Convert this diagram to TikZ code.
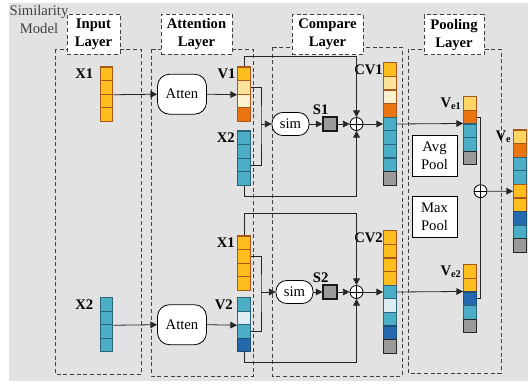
\documentclass[tikz,border=0pt]{standalone}
\usepackage{fontspec}
\setmainfont{Liberation Serif}
\usetikzlibrary{positioning, arrows.meta}

\definecolor{bggray}{HTML}{E2E2E2}
\definecolor{vgold}{HTML}{FDBE1E}
\definecolor{vgoldE}{HTML}{A8581A}
\definecolor{vlgold}{HTML}{FDD563}
\definecolor{vlgoldE}{HTML}{A8581A}
\definecolor{vlyel}{HTML}{FDE29C}
\definecolor{vlyelE}{HTML}{A8581A}
\definecolor{vcream}{HTML}{FEF1D0}
\definecolor{vcreamE}{HTML}{A8581A}
\definecolor{vorange}{HTML}{E97410}
\definecolor{vorangeE}{HTML}{A8581A}
\definecolor{vteal}{HTML}{4CADC7}
\definecolor{vtealE}{HTML}{2B6478}
\definecolor{vpale}{HTML}{DCEEF4}
\definecolor{vpaleE}{HTML}{2B6478}
\definecolor{vdblue}{HTML}{2468AE}
\definecolor{vdblueE}{HTML}{1F4E6E}
\definecolor{vgray}{HTML}{9A9A9A}
\definecolor{vgrayE}{HTML}{262626}

\begin{document}
\begin{tikzpicture}[
		x=0.75pt, y=-0.75pt,
		>={Triangle[length=5pt,width=5pt]},
		font=\fontsize{11}{13.5}\selectfont,
		plainline/.style={draw=black!85, line width=0.6pt},
		arr/.style={->, plainline},
		layerbox/.style={draw=black!75, line width=0.7pt, dash pattern=on 3pt off 2pt},
		layertitle/.style={rectangle, draw=black!75, line width=0.7pt, dash pattern=on 3pt off 2pt, fill=white, align=center, font=\fontsize{11}{13.5}\selectfont\bfseries, minimum height=30pt, inner sep=2pt},
		cell/.style={rectangle, draw=#1E, fill=#1, line width=0.8pt, minimum width=9.6pt, minimum height=10.2pt, inner sep=0pt},
		atten/.style={rectangle, rounded corners=9pt, draw=black, line width=0.6pt, fill=white, minimum width=36.75pt, minimum height=30pt},
		simbox/.style={rectangle, rounded corners=8pt, draw=black, line width=0.6pt, fill=white, minimum width=27.75pt, minimum height=17.25pt, inner sep=0pt},
		score/.style={rectangle, draw=black!90, fill=vgray, line width=0.8pt, minimum size=10.5pt, inner sep=0pt},
		oplus/.style={circle, draw=black, line width=0.6pt, fill=white, minimum size=9.75pt, inner sep=0pt,
			path picture={\draw[line width=0.5pt] (path picture bounding box.north) -- (path picture bounding box.south)
				(path picture bounding box.west) -- (path picture bounding box.east);}},
		poolbox/.style={rectangle, draw=black, line width=0.6pt, fill=white, align=center, minimum width=33.75pt, minimum height=30.75pt, inner sep=1pt},
		lbl/.style={font=\fontsize{11}{13}\selectfont\bfseries, inner sep=1pt}
	]

	\useasboundingbox (0,0) rectangle (528,383);
	\fill[bggray] (9,3) rectangle (528,381);

	\node[align=center, text=black!75, inner sep=0pt] (simmodel) at (39,19) {Similarity\\Model};

	% Layers
	\draw[layerbox] (55,49) rectangle (141,374);
	\draw[layerbox] (151,49) rectangle (253,376);
	\draw[layerbox] (272,47) rectangle (402,376);
	\draw[layerbox] (408,49) rectangle (501,373);
	\node[layertitle, minimum width=39.75pt] (in_title) at (93.5,34) {Input\\Layer};
	\node[layertitle, minimum width=53.25pt] (att_title) at (196.5,34) {Attention\\Layer};
	\node[layertitle, minimum width=53.25pt] (cmp_title) at (327.5,34.5) {Compare\\Layer};
	\node[layertitle, minimum width=45pt] (pool_title) at (454,34.5) {Pooling\\Layer};

	% Input layer
	\foreach \col [count=\i] in {vgold,vgold,vgold,vgold}
		\node[cell=\col] (x1in-\i) at (106.5,{67+(\i-0.5)*13.6}) {};
	\foreach \col [count=\i] in {vteal,vteal,vteal,vteal}
		\node[cell=\col] (x2in-\i) at (106.5,{297.5+(\i-0.5)*13.6}) {};
	\node[lbl, left=3.5pt of x1in-1] {X1};
	\node[lbl, left=3.5pt of x2in-1] {X2};

	% Attention layer
	\node[atten] (at1) at (182,94.2) {Atten};
	\node[atten] (at2) at (182,324.7) {Atten};
	\foreach \col [count=\i] in {vgold,vlyel,vcream,vorange}
		\node[cell=\col] (v1-\i) at (244,{67+(\i-0.5)*13.6}) {};
	\foreach \col [count=\i] in {vteal,vteal,vteal,vteal}
		\node[cell=\col] (x2a-\i) at (244,{131+(\i-0.5)*13.6}) {};
	\foreach \col [count=\i] in {vgold,vgold,vgold,vgold}
		\node[cell=\col] (x1a-\i) at (244,{236+(\i-0.5)*13.6}) {};
	\foreach \col [count=\i] in {vteal,vpale,vteal,vdblue}
		\node[cell=\col] (v2-\i) at (244,{297.5+(\i-0.5)*13.6}) {};
	\node[lbl, left=0pt of v1-1] {V1};
	\node[lbl, left=0.5pt of x2a-1] {X2};
	\node[lbl, left=0.5pt of x1a-1] {X1};
	\node[lbl, left=2pt of v2-1] {V2};
	\draw[arr] (x1in-2.south east) -- (at1.west);
	\draw[arr] (at1.east) -- (v1-2.south west);
	\draw[arr] (x2in-2.south east) -- (at2.west);
	\draw[arr] (at2.east) -- (v2-2.south west);

	% Compare layer
	\node[simbox] (sim1) at (290.5,124) {sim};
	\node[score] (s1) at (330,124) {};
	\node[oplus] (plus1) at (356.5,124) {};
	\node[lbl, above=0pt of s1, xshift=-7pt] {S1};
	\foreach \col [count=\i] in {vgold,vlyel,vcream,vorange,vteal,vteal,vteal,vteal,vgray}
		\node[cell=\col] (cv1-\i) at (390,{62.8+(\i-0.5)*13.6}) {};
	\node[lbl, left=-1pt of cv1-1] {CV1};
	\coordinate (j1) at (261,124);
	\draw[plainline] (v1-2.east) -| (j1) |- (x2a-3.east);
	\draw[arr] (j1) -- (sim1.west);
	\draw[arr] (sim1) -- (s1);
	\draw[arr] (s1) -- (plus1);
	\draw[arr] (plus1) -- (cv1-5.west);
	\draw[arr] (v1-1.north) -- ++(0,-10) -| (plus1.north);
	\draw[arr] (x2a-4.south) -- ++(0,10) -| (plus1.south);

	\node[simbox] (sim2) at (294.5,292) {sim};
	\node[score] (s2) at (330,292) {};
	\node[oplus] (plus2) at (356.5,292) {};
	\node[lbl, above=0pt of s2, xshift=-7pt] {S2};
	\foreach \col [count=\i] in {vgold,vgold,vgold,vgold,vteal,vpale,vteal,vdblue,vgray}
		\node[cell=\col] (cv2-\i) at (390,{230.8+(\i-0.5)*13.6}) {};
	\node[lbl, left=-1pt of cv2-1] {CV2};
	\coordinate (j2) at (261,292);
	\draw[plainline] (x1a-2.east) -| (j2) |- (v2-3.east);
	\draw[arr] (j2) -- (sim2.west);
	\draw[arr] (sim2) -- (s2);
	\draw[arr] (s2) -- (plus2);
	\draw[arr] (plus2) -- (cv2-5.west);
	\draw[arr] (x1a-1.north) -- ++(0,-22) -| (plus2.north);
	\draw[arr] (v2-4.south) -- ++(0,10) -| (plus2.south);

	% Pooling layer
	\node[poolbox] (avgpool) at (434.5,155.5) {Avg\\Pool};
	\node[poolbox] (maxpool) at (434.5,216.5) {Max\\Pool};
	\foreach \col [count=\i] in {vlgold,vorange,vteal,vteal,vgray}
		\node[cell=\col] (ve1-\i) at (470,{96.8+(\i-0.5)*13.6}) {};
	\foreach \col [count=\i] in {vgold,vgold,vdblue,vteal,vgray}
		\node[cell=\col] (ve2-\i) at (470,{264.8+(\i-0.5)*13.6}) {};
	\foreach \col [count=\i] in {vlgold,vorange,vteal,vteal,vgold,vgold,vdblue,vteal,vgray}
		\node[cell=\col] (ve-\i) at (520,{130+(\i-0.5)*13.6}) {};
	\node[lbl, left=0pt of ve1-1] {V\textsubscript{e1}};
	\node[lbl, left=0pt of ve2-1] {V\textsubscript{e2}};
	\node[lbl, left=0pt of ve-1] {V\textsubscript{e}};
	\node[oplus] (plus3) at (480.5,191.2) {};
	\draw[arr] (cv1-5.east) -- (ve1-3.north west);
	\draw[arr] (cv2-5.east) -- (ve2-3.north west);
	\draw[plainline] (ve1-2.east) -| (plus3.north);
	\draw[plainline] (ve2-3.east) -| (plus3.south);
	\draw[arr] (plus3.east) -- (ve-5.west);

\end{tikzpicture}
\end{document}
